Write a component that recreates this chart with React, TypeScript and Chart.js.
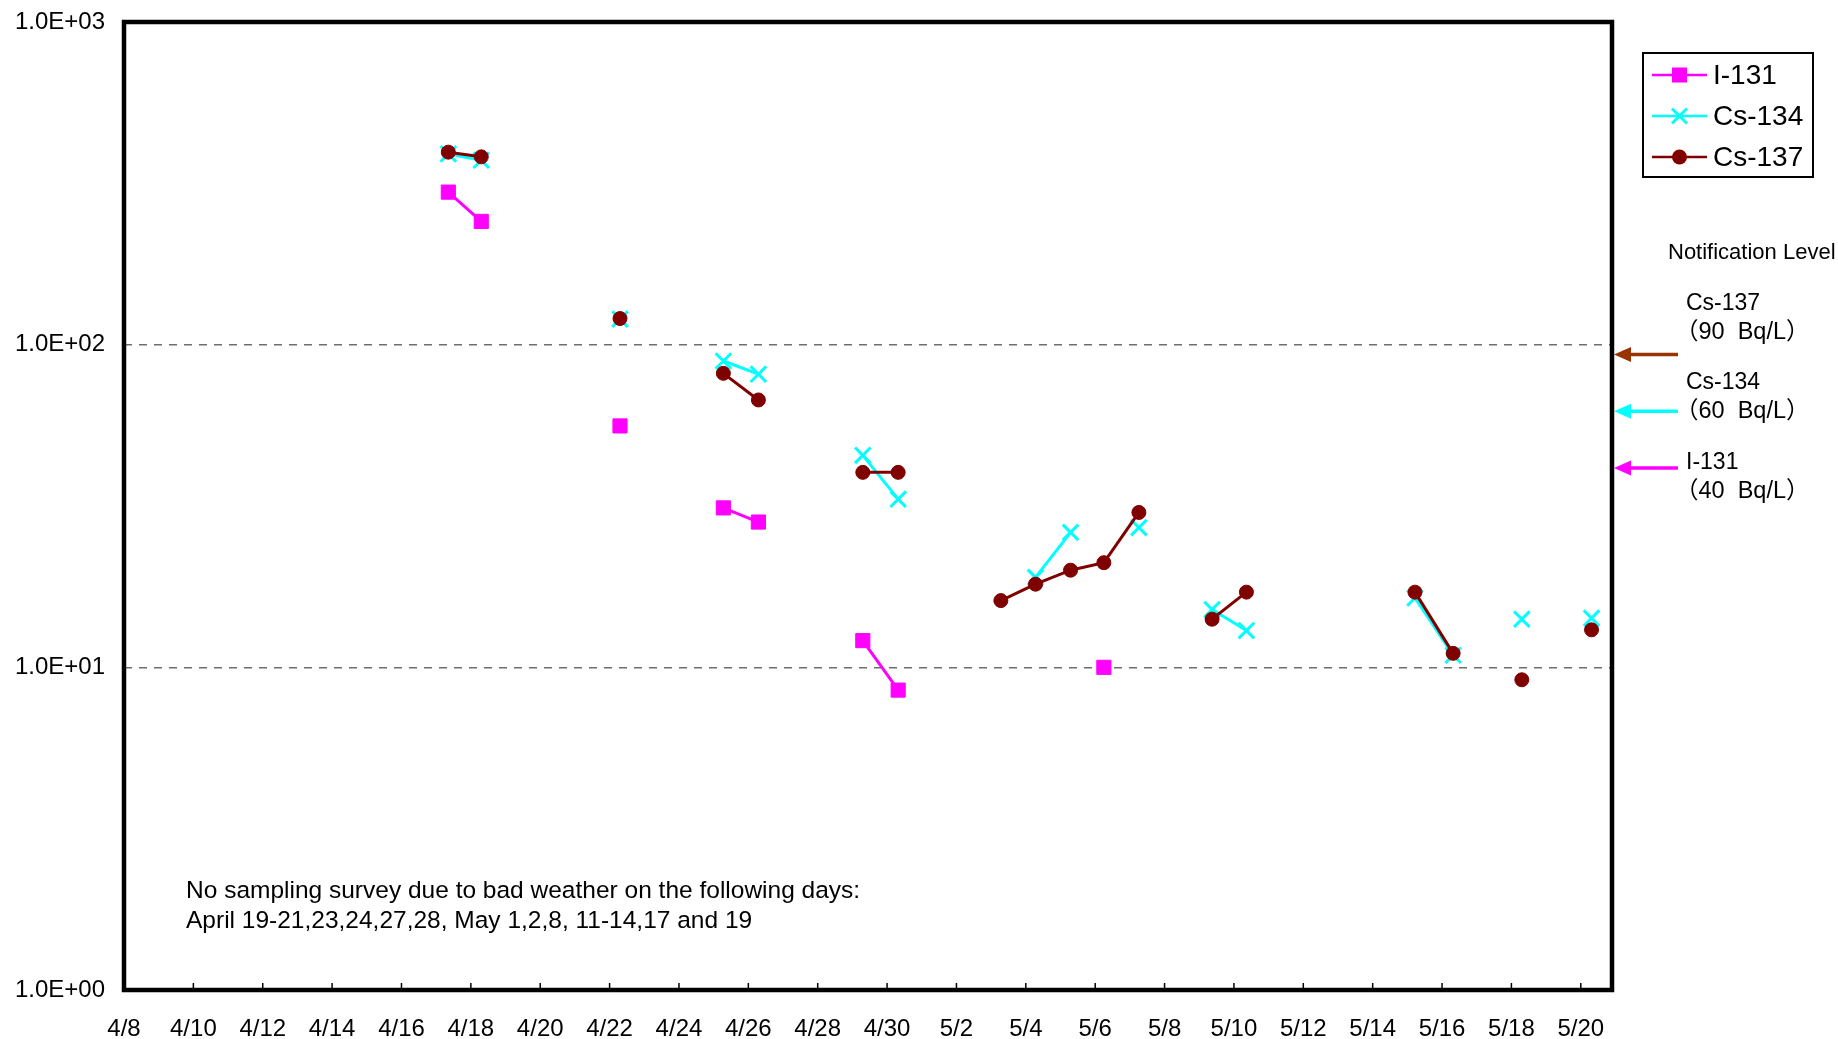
import React, { useEffect, useRef } from 'react';
import { Chart, registerables } from 'chart.js';

Chart.register(...registerables);

const FONT = '"Liberation Sans", Arial, sans-serif';
const CJK_FONT = '"Liberation Sans", "Noto Sans CJK JP", Arial, sans-serif';

// Sampling dates and sampling time expressed as days since 4/8
const sampleDates = ['4/17', '4/18', '4/22', '4/25', '4/26', '4/29', '4/30', '5/3', '5/4', '5/5', '5/6', '5/7', '5/9', '5/10', '5/15', '5/16', '5/18', '5/20'];
const sampleDays = [9.35, 10.3, 14.3, 17.28, 18.29, 21.3, 22.32, 25.28, 26.28, 27.29, 28.25, 29.26, 31.37, 32.36, 37.22, 38.32, 40.3, 42.31];

// Concentrations (Bq/L), null = not detected / not shown
const i131 = [297, 241, 56, 31.2, 28.2, 12.1, 8.5, null, null, null, 10, null, null, null, null, null, null, null];
const cs134 = [390, 373, 120, 89, 81, 45.4, 33.2, null, 19, 26.2, null, 27.1, 15.1, 13, 16.4, 10.9, 14.1, 14.2];
const cs137 = [395, 382, 120.5, 81.5, 67.4, 40.2, 40.2, 16.1, 18.1, 20, 21.1, 30.2, 14.1, 17.1, 17.1, 11.05, 9.15, 13.07];

const seriesNames = ['I-131', 'Cs-134', 'Cs-137'];
const seriesColors = ['#FF00FF', '#00FFFF', '#800000'];

const xTickLabels = ['4/8', '4/10', '4/12', '4/14', '4/16', '4/18', '4/20', '4/22', '4/24', '4/26', '4/28', '4/30', '5/2', '5/4', '5/6', '5/8', '5/10', '5/12', '5/14', '5/16', '5/18', '5/20'];
const yTickValues = [1, 10, 100, 1000];
const yTickLabels = ['1.0E+00', '1.0E+01', '1.0E+02', '1.0E+03'];

const notifyNames = ['Cs-137', 'Cs-134', 'I-131'];
const notifyValues = [90, 60, 40];
const notifyColors = ['#993300', '#00FFFF', '#FF00FF'];

const noteLines = [
  'No sampling survey due to bad weather on the following days:',
  'April 19-21,23,24,27,28, May 1,2,8, 11-14,17 and 19',
];

function buildSeries(vals: (number | null)[]) {
  const pts: { x: number; y: number | null }[] = [];
  sampleDays.forEach((t, i) => {
    if (i > 0 && Math.floor(t) - Math.floor(sampleDays[i - 1]) > 1) {
      pts.push({ x: (t + sampleDays[i - 1]) / 2, y: null });
    }
    pts.push({ x: t, y: vals[i] });
  });
  return pts;
}

function drawMarker(ctx: CanvasRenderingContext2D, style: string, x: number, y: number, color: string) {
  ctx.save();
  ctx.fillStyle = color;
  ctx.strokeStyle = color;
  if (style === 'rect') {
    ctx.fillRect(x - 7.5, y - 7.5, 15, 15);
  } else if (style === 'circle') {
    ctx.beginPath();
    ctx.arc(x, y, 7.5, 0, Math.PI * 2);
    ctx.fill();
  } else {
    ctx.lineWidth = 3;
    const d = 7.5;
    ctx.beginPath();
    ctx.moveTo(x - d, y - d);
    ctx.lineTo(x + d, y + d);
    ctx.moveTo(x - d, y + d);
    ctx.lineTo(x + d, y - d);
    ctx.stroke();
  }
  ctx.restore();
}

const overlayPlugin = {
  id: 'overlay',
  afterDraw(chart: any) {
    const { ctx, chartArea: a, scales } = chart;
    const xs = scales.x;
    const ys = scales.y;
    ctx.save();

    // inward tick marks on the bottom axis
    ctx.strokeStyle = '#000';
    ctx.lineWidth = 1.5;
    xs.ticks.forEach((t: any) => {
      const px = xs.getPixelForValue(t.value);
      ctx.beginPath();
      ctx.moveTo(px, a.bottom);
      ctx.lineTo(px, a.bottom - 7);
      ctx.stroke();
    });

    // plot frame
    ctx.lineWidth = 4.5;
    ctx.strokeStyle = '#000';
    ctx.strokeRect(a.left, a.top, a.right - a.left, a.bottom - a.top);

    // legend
    const lx = 1643;
    const ly = 53;
    ctx.lineWidth = 2;
    ctx.strokeRect(lx, ly, 170, 124);
    const styles = ['rect', 'crossRot', 'circle'];
    ctx.font = `28px ${FONT}`;
    ctx.textBaseline = 'middle';
    ctx.textAlign = 'left';
    seriesNames.forEach((name, i) => {
      const ry = ly + 22 + i * 41;
      ctx.strokeStyle = seriesColors[i];
      ctx.lineWidth = 2.5;
      ctx.beginPath();
      ctx.moveTo(lx + 9, ry);
      ctx.lineTo(lx + 64, ry);
      ctx.stroke();
      drawMarker(ctx, styles[i], lx + 36.5, ry, seriesColors[i]);
      ctx.fillStyle = '#000';
      ctx.fillText(name, lx + 70, ry + 1);
    });

    // notification level annotations
    ctx.fillStyle = '#000';
    ctx.font = `22px ${FONT}`;
    ctx.fillText('Notification Level', 1668, 253);
    const labelY = [304, 383, 463];
    notifyNames.forEach((name, i) => {
      ctx.font = `23px ${FONT}`;
      ctx.fillStyle = '#000';
      ctx.fillText(name, 1686, labelY[i]);
      ctx.font = `23.5px ${CJK_FONT}`;
      ctx.fillText(`（${notifyValues[i]}  Bq/L）`, 1675, labelY[i] + 29);
      const py = ys.getPixelForValue(notifyValues[i]) - 5;
      const tip = a.right + 2;
      ctx.strokeStyle = notifyColors[i];
      ctx.fillStyle = notifyColors[i];
      ctx.lineWidth = 3.5;
      ctx.beginPath();
      ctx.moveTo(tip + 12, py);
      ctx.lineTo(a.right + 66, py);
      ctx.stroke();
      ctx.beginPath();
      ctx.moveTo(tip, py);
      ctx.lineTo(tip + 17, py - 7.5);
      ctx.lineTo(tip + 17, py + 7.5);
      ctx.closePath();
      ctx.fill();
    });

    // note
    ctx.fillStyle = '#000';
    ctx.font = `24.5px ${FONT}`;
    noteLines.forEach((line, i) => {
      ctx.fillText(line, 186, 891 + i * 30.5);
    });

    ctx.restore();
  },
};

export default function App() {
  const ref = useRef<HTMLCanvasElement>(null);

  useEffect(() => {
    const canvas = ref.current;
    if (!canvas) return;
    const pointStyles = ['rect', 'crossRot', 'circle'];
    const radii = [10, 11, 7];
    const borders = [1, 3, 1];
    const orders = [3, 2, 1];
    const allVals = [i131, cs134, cs137];
    const chart = new Chart(canvas, {
      type: 'line',
      data: {
        datasets: seriesNames.map((name, i) => ({
          label: name,
          data: buildSeries(allVals[i]) as any,
          borderColor: seriesColors[i],
          backgroundColor: seriesColors[i],
          borderWidth: 3,
          pointStyle: pointStyles[i] as any,
          pointRadius: radii[i],
          pointHoverRadius: radii[i],
          pointBorderWidth: borders[i],
          pointBackgroundColor: seriesColors[i],
          pointBorderColor: seriesColors[i],
          spanGaps: false,
          tension: 0,
          order: orders[i],
        })),
      },
      options: {
        responsive: false,
        animation: false,
        layout: { padding: { left: 0, top: 22, right: 226, bottom: 0 } },
        plugins: {
          legend: { display: false },
          tooltip: { enabled: false },
        },
        scales: {
          x: {
            type: 'linear',
            min: 0,
            max: 42.9,
            grid: { display: false, drawTicks: false },
            border: { display: false },
            afterBuildTicks: (scale: any) => {
              scale.ticks = xTickLabels.map((_, i) => ({ value: i * 2 }));
            },
            afterFit: (scale: any) => {
              scale.height = 49;
              scale.paddingLeft = 0;
              scale.paddingRight = 0;
            },
            ticks: {
              autoSkip: false,
              maxRotation: 0,
              padding: 25,
              color: '#000',
              font: { family: FONT, size: 24 },
              callback: (v: any) => xTickLabels[Math.round(Number(v) / 2)] ?? '',
            },
          },
          y: {
            type: 'logarithmic',
            min: 1,
            max: 1000,
            border: { display: false, dash: [8, 7] },
            grid: {
              drawTicks: false,
              color: '#6e6e6e',
              lineWidth: 1.5,
            },
            afterBuildTicks: (scale: any) => {
              scale.ticks = yTickValues.map((v) => ({ value: v }));
            },
            afterFit: (scale: any) => {
              scale.width = 124;
              scale.paddingTop = 0;
              scale.paddingBottom = 0;
            },
            ticks: {
              padding: 19,
              color: '#000',
              font: { family: FONT, size: 24 },
              callback: (v: any) => {
                const idx = yTickValues.indexOf(Number(v));
                return idx >= 0 ? yTickLabels[idx] : '';
              },
            },
          } as any,
        },
      },
      plugins: [overlayPlugin],
    } as any);
    return () => chart.destroy();
  }, []);

  return (
    <div style={{ position: 'fixed', left: 0, top: 0, width: 1838, height: 1039, background: '#fff' }}>
      <canvas ref={ref} width={1838} height={1039} style={{ display: 'block', width: 1838, height: 1039 }} />
    </div>
  );
}
